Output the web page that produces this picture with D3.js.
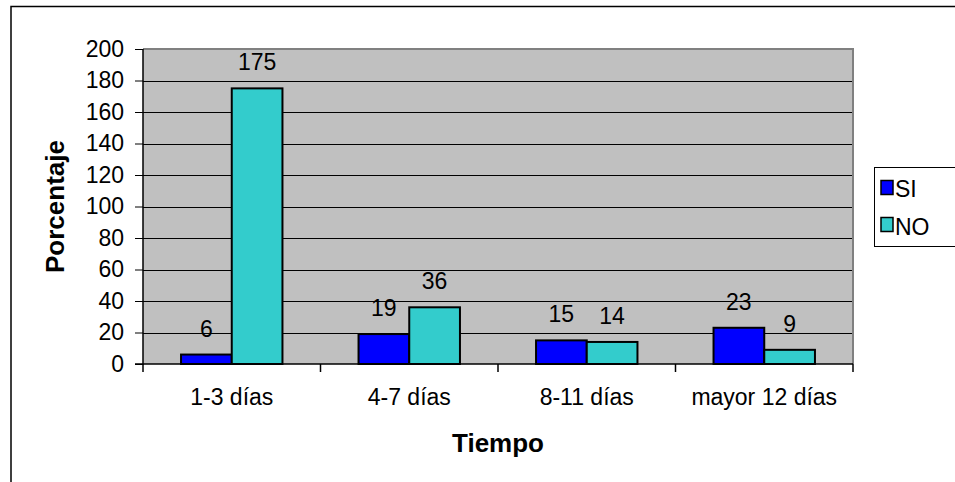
<!DOCTYPE html>
<html>
<head>
<meta charset="utf-8">
<script src="https://cdn.jsdelivr.net/npm/d3@7"></script>
<style>
  html, body { margin: 0; padding: 0; background: #fff; }
  svg { display: block; font-family: Arial, "Liberation Sans", sans-serif; }
</style>
</head>
<body>
<svg id="chart" width="955" height="482"></svg>
<script>
// Días de estancia por grupo
const categories = ["1-3 días", "4-7 días", "8-11 días", "mayor 12 días"];
const seriesNames = ["SI", "NO"];
const siValues = [6, 19, 15, 23];
const noValues = [175, 36, 14, 9];
const yTicks = [0, 20, 40, 60, 80, 100, 120, 140, 160, 180, 200];
const colors = ["#0000FF", "#33CCCC"];

const FONT = "Arial, 'Liberation Sans', sans-serif";
const FS = 23;

const svg = d3.select("#chart");
const plot = { left: 143, top: 49, right: 853, bottom: 364 };

// Outer chart frame
svg.append("rect")
  .attr("x", 11).attr("y", 6.5).attr("width", 960).attr("height", 500)
  .attr("fill", "#fff").attr("stroke", "#000").attr("stroke-width", 1.5);

const x0 = d3.scaleBand().domain(categories).range([plot.left, plot.right]);
const barW = x0.bandwidth() / 3.5;
const x1 = d3.scaleBand().domain(seriesNames).range([0, barW * 2]);
const y = d3.scaleLinear().domain([0, 200]).range([plot.bottom, plot.top]);

// Plot background
svg.append("rect")
  .attr("x", plot.left).attr("y", plot.top)
  .attr("width", plot.right - plot.left).attr("height", plot.bottom - plot.top)
  .attr("fill", "#C0C0C0");

// Gridlines
svg.append("g").selectAll("line").data(yTicks.filter(d => d > 0 && d < 200)).join("line")
  .attr("x1", plot.left).attr("x2", plot.right)
  .attr("y1", d => Math.round(y(d)) + 0.5).attr("y2", d => Math.round(y(d)) + 0.5)
  .attr("stroke", "#000").attr("stroke-width", 1);

// Plot border (top/right grey)
svg.append("path")
  .attr("d", `M${plot.left},${plot.top} H${plot.right} V${plot.bottom}`)
  .attr("fill", "none").attr("stroke", "#808080").attr("stroke-width", 2);

// Bars
const rows = categories.map((c, i) => ({ cat: c, vals: [siValues[i], noValues[i]] }));
const groups = svg.append("g").selectAll("g").data(rows).join("g")
  .attr("transform", d => `translate(${x0(d.cat) + (x0.bandwidth() - barW * 2) / 2},0)`);

groups.selectAll("rect").data(d => d.vals.map((v, j) => ({ v, s: seriesNames[j], j }))).join("rect")
  .attr("x", d => x1(d.s)).attr("width", x1.bandwidth())
  .attr("y", d => y(d.v)).attr("height", d => y(0) - y(d.v))
  .attr("fill", d => colors[d.j]).attr("stroke", "#000").attr("stroke-width", 2);

groups.selectAll("text").data(d => d.vals.map((v, j) => ({ v, s: seriesNames[j] }))).join("text")
  .attr("x", d => x1(d.s) + x1.bandwidth() / 2)
  .attr("y", d => y(d.v) - 18)
  .attr("text-anchor", "middle").attr("font-size", FS).attr("fill", "#000")
  .text(d => d.v);

// Y axis
const yAxis = d3.axisLeft(y).tickValues(yTicks).tickSize(8).tickPadding(11);
const gy = svg.append("g").attr("transform", `translate(${plot.left},0)`).call(yAxis);
gy.select(".domain").attr("stroke", "#000").attr("stroke-width", 1.5).attr("d", `M-8,${plot.bottom}H0V${plot.top}`);
gy.selectAll(".tick line").attr("stroke", "#000");
gy.selectAll(".tick text").attr("font-size", FS).attr("font-family", FONT).attr("fill", "#000");

// X axis
const xAxis = d3.axisBottom(x0).tickSize(0).tickPadding(25);
const gx = svg.append("g").attr("transform", `translate(0,${plot.bottom})`).call(xAxis);
gx.select(".domain").attr("stroke", "#000").attr("stroke-width", 1.5).attr("d", `M${plot.left},0H${plot.right}`);
gx.selectAll(".tick text").attr("font-size", FS).attr("font-family", FONT).attr("fill", "#000");
// Boundary ticks between categories
const bounds = categories.map(c => x0(c)).concat([plot.right]);
svg.append("g").selectAll("line").data(bounds).join("line")
  .attr("x1", d => d).attr("x2", d => d)
  .attr("y1", plot.bottom).attr("y2", plot.bottom + 8)
  .attr("stroke", "#000").attr("stroke-width", 1.5);

// Axis titles
svg.append("text")
  .attr("transform", `translate(64,${(plot.top + plot.bottom) / 2}) rotate(-90)`)
  .attr("text-anchor", "middle").attr("font-size", 26).attr("font-weight", "bold")
  .text("Porcentaje");
svg.append("text")
  .attr("x", (plot.left + plot.right) / 2).attr("y", 452)
  .attr("text-anchor", "middle").attr("font-size", 26).attr("font-weight", "bold")
  .text("Tiempo");

// Legend
const lg = svg.append("g");
lg.append("rect").attr("x", 874.5).attr("y", 167.5).attr("width", 90).attr("height", 79)
  .attr("fill", "#fff").attr("stroke", "#000").attr("stroke-width", 1);
seriesNames.forEach((s, i) => {
  lg.append("rect").attr("x", 881).attr("y", 180.5 + i * 37).attr("width", 12).attr("height", 14)
    .attr("fill", colors[i]).attr("stroke", "#000").attr("stroke-width", 1.5);
  lg.append("text").attr("x", 895).attr("y", 197 + i * 38)
    .attr("font-size", FS).text(s);
});
</script>
</body>
</html>
